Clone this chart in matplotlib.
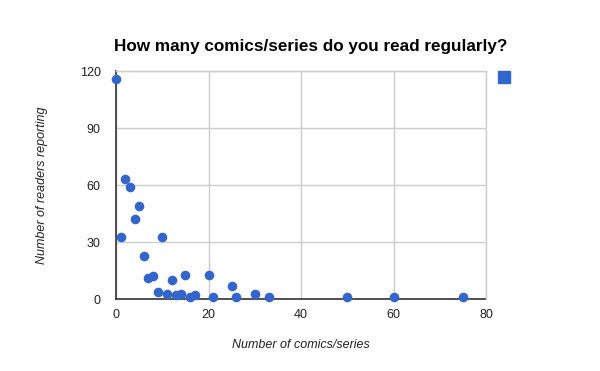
import matplotlib
matplotlib.use("Agg")
import matplotlib.pyplot as plt

comics = [0, 1, 2, 3, 4, 5, 6, 7, 8, 9, 10, 11, 12, 13, 14, 15, 16, 17, 20, 21, 25, 26, 30, 33, 50, 60, 75]
readers = [116, 33, 63, 59, 42, 49, 23, 11, 12, 4, 33, 3, 10, 2, 3, 13, 1, 2, 13, 1, 7, 1, 3, 1, 1, 1, 1]
xticks = [0, 20, 40, 60, 80]
yticks = [0, 30, 60, 90, 120]

plt.rcParams['font.family'] = ['Liberation Sans', 'DejaVu Sans']

W, H = 600, 371
fig = plt.figure(figsize=(W / 100, H / 100), dpi=100)
left, right, top, bottom = 116, 486, 71, 299.3
ax = fig.add_axes([left / W, 1 - bottom / H, (right - left) / W, (bottom - top) / H])

ax.scatter(comics, readers, s=48, color='#3366cc', zorder=3, clip_on=False, linewidths=0)
ax.set_xlim(0, 80)
ax.set_ylim(0, 120)
ax.set_xticks(xticks)
ax.set_yticks(yticks)
ax.grid(True, color='#cccccc', linewidth=1)
ax.set_axisbelow(True)
for s in ['top', 'right']:
    ax.spines[s].set_color('#cccccc')
    ax.spines[s].set_linewidth(1)
for s in ['left', 'bottom']:
    ax.spines[s].set_color('#333333')
    ax.spines[s].set_linewidth(1.2)
    ax.spines[s].set_zorder(2)
ax.tick_params(length=0, labelsize=9, colors='#222222')
ax.tick_params(axis='x', pad=7)
ax.tick_params(axis='y', pad=11)

fig.text(311 / W, 1 - 46 / H, 'How many comics/series do you read regularly?', ha='center', va='center',
         fontsize=12.3, fontweight='bold', color='#000000')
fig.text(301 / W, 1 - 345 / H, 'Number of comics/series', ha='center', va='center',
         fontsize=9, style='italic', color='#222222')
fig.text(42 / W, 1 - 185 / H, 'Number of readers reporting', ha='center', va='center', rotation=90,
         fontsize=9, style='italic', color='#222222')

# legend swatch (no label)
fig.patches.append(plt.Rectangle((498 / W, 1 - 83 / H), 12 / W, 12 / H, transform=fig.transFigure,
                                 color='#3366cc', figure=fig))

fig.savefig('out.png', dpi=100)
